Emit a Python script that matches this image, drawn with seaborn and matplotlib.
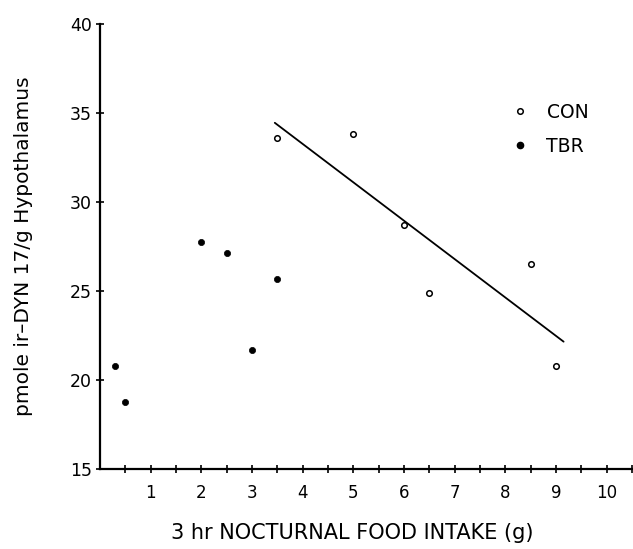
import matplotlib
matplotlib.use("Agg")
import matplotlib.pyplot as plt
import seaborn as sns
import numpy as np
import pandas as pd
from matplotlib.lines import Line2D

# ---- data ----
con_x = [3.5, 5.0, 6.0, 6.5, 8.5, 9.0]
con_y = [33.6, 33.8, 28.7, 24.9, 26.5, 20.8]
tbr_x = [0.3, 0.5, 2.0, 2.5, 3.0, 3.5]
tbr_y = [20.8, 18.75, 27.75, 27.15, 21.7, 25.7]
fit_x_range = [3.45, 9.15]
x_ticks = [1, 2, 3, 4, 5, 6, 7, 8, 9, 10]
y_ticks = [15, 20, 25, 30, 35, 40]
groups = ["CON", "TBR"]
x_label = "3 hr NOCTURNAL FOOD INTAKE (g)"
y_label = "pmole ir\u2013DYN 17/g Hypothalamus"

df = pd.DataFrame({
    "x": con_x + tbr_x,
    "y": con_y + tbr_y,
    "group": [groups[0]] * len(con_x) + [groups[1]] * len(tbr_x),
})

sns.set_style("ticks")
plt.rcParams["font.family"] = ["DejaVu Sans"]
plt.rcParams["text.color"] = "black"
plt.rcParams["axes.labelcolor"] = "black"
plt.rcParams["xtick.color"] = "black"
plt.rcParams["ytick.color"] = "black"

fig = plt.figure(figsize=(6.33, 5.49), dpi=100)
ax = fig.add_axes([100 / 633, 1 - 469 / 549, 532 / 633, (469 - 24) / 549])

d_con = df[df.group == "CON"]
d_tbr = df[df.group == "TBR"]
sns.scatterplot(data=d_con, x="x", y="y", ax=ax, marker="o", s=16,
                facecolor="white", edgecolor="black", linewidth=1.1, zorder=3)
sns.scatterplot(data=d_tbr, x="x", y="y", ax=ax, marker="o", s=20,
                color="black", edgecolor="black", linewidth=0.5, zorder=3)

# regression line for CON
coef = np.polyfit(d_con.x, d_con.y, 1)
lx = np.array(fit_x_range)
ax.plot(lx, np.polyval(coef, lx), color="black", lw=1.3)

ax.set_xlim(0, 10.5)
ax.set_ylim(15, 40)
ax.set_xticks(x_ticks)
ax.set_xticks(np.arange(0.5, 10.6, 1.0), minor=True)
ax.set_yticks(y_ticks)
ax.tick_params(axis="both", which="both", direction="inout", length=6,
               width=1.2, color="black")
ax.tick_params(axis="x", which="major", labelsize=12, pad=8)
ax.tick_params(axis="y", which="major", labelsize=12.5, pad=3)

for s in ["top", "right"]:
    ax.spines[s].set_visible(False)
for s in ["left", "bottom"]:
    ax.spines[s].set_linewidth(1.6)
    ax.spines[s].set_color("black")

ax.set_xlabel(x_label, fontsize=15)
ax.set_ylabel(y_label, fontsize=14.5)
# label placement (axes fraction)
ax.xaxis.set_label_coords((352 - 100) / 532, -(533 - 469) / 445, transform=ax.transAxes)
ax.xaxis.label.set_verticalalignment("center")
ax.yaxis.set_label_coords(-(100 - 24) / 532, (469 - 246) / 445, transform=ax.transAxes)
ax.yaxis.label.set_verticalalignment("center")

handles = [
    Line2D([], [], marker="o", linestyle="none", markersize=4,
           markerfacecolor="white", markeredgecolor="black", markeredgewidth=1.1),
    Line2D([], [], marker="o", linestyle="none", markersize=4.5,
           markerfacecolor="black", markeredgecolor="black"),
]
leg = ax.legend(handles, groups, frameon=False, loc="center left",
                bbox_to_anchor=((494 - 100) / 532, (469 - 129) / 445),
                fontsize=13.5, handletextpad=0.9,
                handlelength=1.0, labelspacing=0.8)

fig.savefig("out.png", dpi=100, facecolor="white")
